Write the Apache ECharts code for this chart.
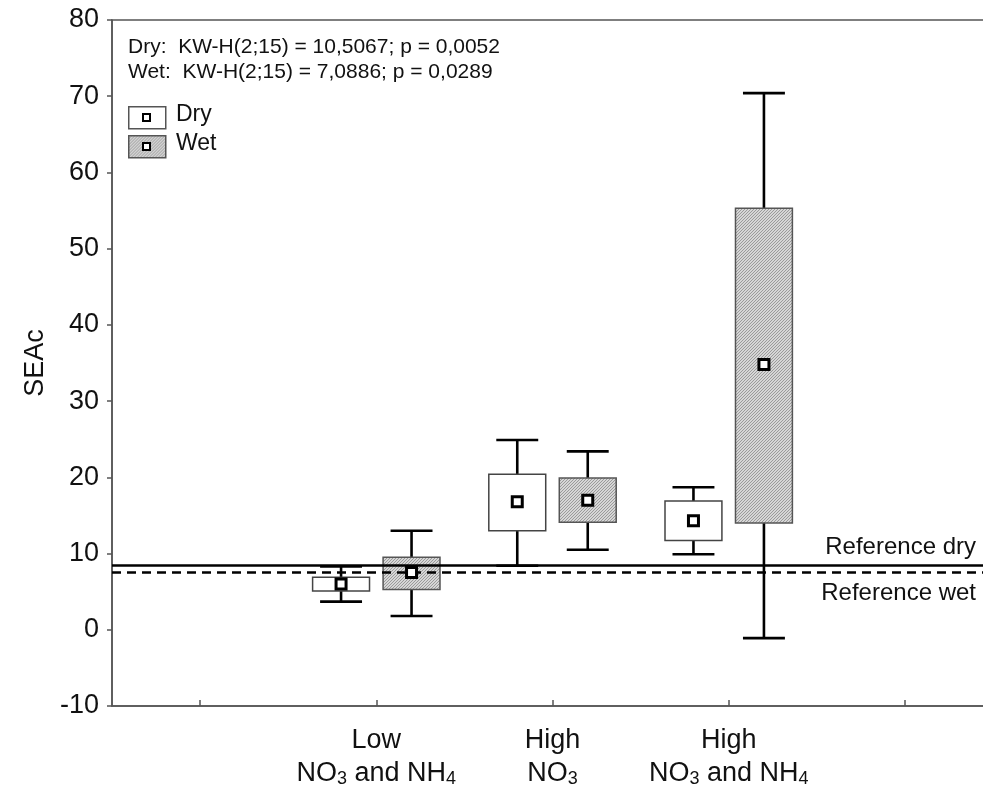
<!DOCTYPE html>
<html>
<head>
<meta charset="utf-8">
<script src="https://cdn.jsdelivr.net/npm/echarts@6/dist/echarts.min.js"></script>
<style>
  html, body { margin: 0; padding: 0; background: #fff; }
  #chart { width: 983px; height: 794px; }
</style>
</head>
<body>
<div id="chart"></div>
<script>
// Treatment groups (x axis)
const categories = ['Low\nNO3 and NH4', 'High\nNO3', 'High\nNO3 and NH4'];

// Dry season: mean, box limits and whisker limits
const dryMean        = [6.0, 16.8, 14.3];
const dryBoxLow      = [5.1, 13.0, 11.7];
const dryBoxHigh     = [6.9, 20.4, 16.9];
const dryWhiskerLow  = [3.7, 8.4, 9.9];
const dryWhiskerHigh = [8.3, 24.9, 18.7];

// Wet season: mean, box limits and whisker limits
const wetMean        = [7.5, 17.0, 34.8];
const wetBoxLow      = [5.3, 14.1, 14.0];
const wetBoxHigh     = [9.5, 19.9, 55.3];
const wetWhiskerLow  = [1.8, 10.5, -1.1];
const wetWhiskerHigh = [13.0, 23.4, 70.4];

// Reference values
const referenceDry = 8.5;
const referenceWet = 7.6;

// Axis ticks
const yTicks = [-10, 0, 10, 20, 30, 40, 50, 60, 70, 80];
const xTickValues = [0, 1, 2, 3, 4];

const statLines = [
  'Dry:  KW-H(2;15) = 10,5067; p = 0,0052',
  'Wet:  KW-H(2;15) = 7,0886; p = 0,0289'
];

const FONT = '"Liberation Sans", Arial, Helvetica, sans-serif';
const DRY_OFFSET = -0.2;
const WET_OFFSET = 0.2;
const BOX_W = 0.323;
const CAP_W = 0.238;

// fine diagonal hatch used for the wet boxes
function hatchCanvas() {
  const c = document.createElement('canvas');
  c.width = 3; c.height = 3;
  const ctx = c.getContext('2d');
  ctx.fillStyle = '#d6d6d6';
  ctx.fillRect(0, 0, 3, 3);
  ctx.fillStyle = '#9a9a9a';
  for (let i = 0; i < 3; i++) ctx.fillRect(i, 2 - i, 1, 1);
  return c;
}
const hatch = { image: hatchCanvas(), repeat: 'repeat' };

function rows(lo, bl, bh, hi) {
  return lo.map((v, i) => [i, v, bl[i], bh[i], hi[i]]);
}

function boxRenderer(offset, fill, stroke) {
  return function (params, api) {
    const x = api.value(0) + 1 + offset;
    const pLo = api.coord([x, api.value(1)]);
    const pBl = api.coord([x, api.value(2)]);
    const pBh = api.coord([x, api.value(3)]);
    const pHi = api.coord([x, api.value(4)]);
    const halfBox = api.size([BOX_W, 0])[0] / 2;
    const halfCap = api.size([CAP_W, 0])[0] / 2;
    const lineStyle = { stroke: '#000', lineWidth: 2.6 };
    return {
      type: 'group',
      children: [
        { type: 'line', shape: { x1: pLo[0], y1: pLo[1], x2: pHi[0], y2: pHi[1] }, style: lineStyle },
        { type: 'line', shape: { x1: pLo[0] - halfCap, y1: pLo[1], x2: pLo[0] + halfCap, y2: pLo[1] }, style: lineStyle },
        { type: 'line', shape: { x1: pHi[0] - halfCap, y1: pHi[1], x2: pHi[0] + halfCap, y2: pHi[1] }, style: lineStyle },
        {
          type: 'rect',
          shape: { x: pBh[0] - halfBox, y: pBh[1], width: halfBox * 2, height: pBl[1] - pBh[1] },
          style: { fill: fill, stroke: stroke, lineWidth: 1.5 }
        }
      ]
    };
  };
}

function labelFormatter(value) {
  const idx = Math.round(value) - 1;
  if (idx < 0 || idx >= categories.length) return '';
  const lines = categories[idx].split('\n');
  const second = '{a|' + lines[1].replace(/([A-Z])(\d)/g, '$1}{s|$2}{a|') + '}';
  return '{a|' + lines[0] + '}\n' + second;
}

const chart = echarts.init(document.getElementById('chart'), null, { renderer: 'canvas' });

chart.setOption({
  animation: false,
  backgroundColor: '#fff',
  textStyle: { fontFamily: FONT },
  grid: {
    left: 112, top: 20, right: -10, bottom: 88,
    show: true, borderColor: '#555', borderWidth: 1.5,
    containLabel: false, outerBoundsMode: 'none'
  },
  xAxis: {
    type: 'value',
    min: -0.5, max: 4.5,
    splitLine: { show: false },
    axisLine: { show: true, onZero: false, lineStyle: { color: '#555', width: 1.5 } },
    axisTick: { show: true, inside: true, length: 6, customValues: xTickValues, lineStyle: { color: '#555', width: 1.5 } },
    axisLabel: {
      customValues: [1, 2, 3],
      margin: 18,
      formatter: labelFormatter,
      rich: {
        a: { fontFamily: FONT, fontSize: 27, color: '#111', lineHeight: 33 },
        s: { fontFamily: FONT, fontSize: 18, color: '#111', lineHeight: 33, padding: [12, 0, 0, 0] }
      }
    }
  },
  yAxis: {
    type: 'value',
    min: yTicks[0], max: yTicks[yTicks.length - 1], interval: 10,
    splitLine: { show: false },
    axisLine: { show: true, onZero: false, lineStyle: { color: '#555', width: 1.5 } },
    axisTick: { show: true, inside: false, length: 5, lineStyle: { color: '#555', width: 1.5 } },
    axisLabel: { fontFamily: FONT, fontSize: 27, color: '#111', margin: 13 },
    name: 'SEAc',
    nameLocation: 'middle',
    nameGap: 58,
    nameTextStyle: { fontFamily: FONT, fontSize: 27, color: '#111' }
  },
  series: [
    {
      name: 'Dry',
      type: 'custom',
      z: 2,
      renderItem: boxRenderer(DRY_OFFSET, '#fff', '#444'),
      data: rows(dryWhiskerLow, dryBoxLow, dryBoxHigh, dryWhiskerHigh)
    },
    {
      name: 'Wet',
      type: 'custom',
      z: 2,
      renderItem: boxRenderer(WET_OFFSET, hatch, '#555'),
      data: rows(wetWhiskerLow, wetBoxLow, wetBoxHigh, wetWhiskerHigh)
    },
    {
      name: 'Reference',
      type: 'line',
      z: 5,
      data: [],
      markLine: {
        silent: true,
        symbol: 'none',
        animation: false,
        data: [
          {
            yAxis: referenceDry,
            lineStyle: { color: '#000', width: 2.5, type: 'solid' },
            label: { show: true, position: 'insideEndTop', formatter: 'Reference dry', distance: [17, 6],
                     fontFamily: FONT, fontSize: 24, color: '#111' }
          },
          {
            yAxis: referenceWet,
            lineStyle: { color: '#000', width: 2.5, type: [9, 6] },
            label: { show: true, position: 'insideEndBottom', formatter: 'Reference wet', distance: [17, 10],
                     fontFamily: FONT, fontSize: 24, color: '#111' }
          }
        ]
      }
    },
    {
      name: 'Dry mean',
      type: 'scatter',
      z: 10,
      symbol: 'rect',
      symbolSize: 10,
      itemStyle: { color: '#fff', borderColor: '#000', borderWidth: 3, opacity: 1 },
      data: dryMean.map((v, i) => [i + 1 + DRY_OFFSET, v])
    },
    {
      name: 'Wet mean',
      type: 'scatter',
      z: 10,
      symbol: 'rect',
      symbolSize: 10,
      itemStyle: { color: '#fff', borderColor: '#000', borderWidth: 3, opacity: 1 },
      data: wetMean.map((v, i) => [i + 1 + WET_OFFSET, v])
    }
  ],
  graphic: [
    {
      type: 'text', left: 128, top: 37, z: 20,
      style: { text: statLines[0], font: '21px ' + FONT, fill: '#111' }
    },
    {
      type: 'text', left: 128, top: 62, z: 20,
      style: { text: statLines[1], font: '21px ' + FONT, fill: '#111' }
    },
    // legend: Dry
    { type: 'rect', left: 128, top: 106, z: 20, shape: { width: 37, height: 22 }, style: { fill: '#fff', stroke: '#555', lineWidth: 1.5 } },
    { type: 'rect', left: 142, top: 113, z: 21, shape: { width: 7, height: 7 }, style: { fill: '#fff', stroke: '#000', lineWidth: 2 } },
    { type: 'text', left: 176, top: 103, z: 20, style: { text: 'Dry', font: '23px ' + FONT, fill: '#111' } },
    // legend: Wet
    { type: 'rect', left: 128, top: 135, z: 20, shape: { width: 37, height: 22 }, style: { fill: hatch, stroke: '#555', lineWidth: 1.5 } },
    { type: 'rect', left: 142, top: 142, z: 21, shape: { width: 7, height: 7 }, style: { fill: '#fff', stroke: '#000', lineWidth: 2 } },
    { type: 'text', left: 176, top: 132, z: 20, style: { text: 'Wet', font: '23px ' + FONT, fill: '#111' } }
  ]
});
</script>
</body>
</html>
